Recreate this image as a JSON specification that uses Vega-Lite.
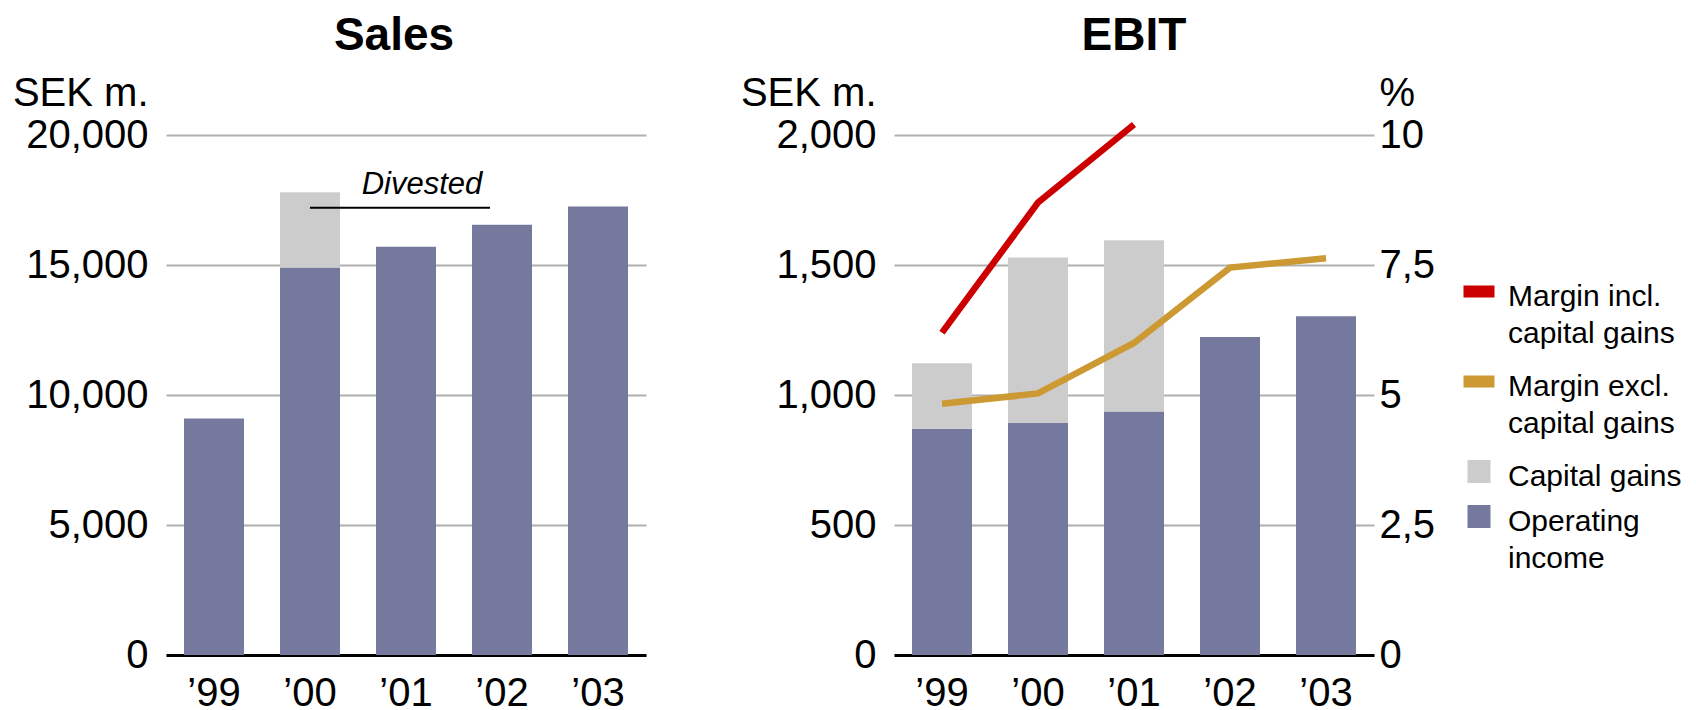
{
  "$schema": "https://vega.github.io/schema/vega-lite/v6.json",
  "padding": {"left": 12, "top": 13, "right": 5, "bottom": 0},
  "background": "white",
  "config": {
    "font": "Liberation Sans",
    "view": {"stroke": null},
    "axis": {"labelFont": "Liberation Sans", "titleFont": "Liberation Sans", "labelColor": "#000", "titleColor": "#000"}
  },
  "datasets": {
    "sales": [
      {"year": "’99", "type": "Ongoing", "value": 9100},
      {"year": "’00", "type": "Ongoing", "value": 14900},
      {"year": "’00", "type": "Divested", "value": 2900},
      {"year": "’01", "type": "Ongoing", "value": 15700},
      {"year": "’02", "type": "Ongoing", "value": 16550},
      {"year": "’03", "type": "Ongoing", "value": 17250}
    ],
    "annot": [
      {"label": "Divested", "start": "’00", "end": "’02", "level": 17200}
    ],
    "ebit": [
      {"year": "’99", "type": "Operating income", "value": 870},
      {"year": "’99", "type": "Capital gains", "value": 252},
      {"year": "’00", "type": "Operating income", "value": 892},
      {"year": "’00", "type": "Capital gains", "value": 637},
      {"year": "’01", "type": "Operating income", "value": 937},
      {"year": "’01", "type": "Capital gains", "value": 658},
      {"year": "’02", "type": "Operating income", "value": 1223},
      {"year": "’03", "type": "Operating income", "value": 1303}
    ],
    "margin": [
      {"year": "’99", "series": "Margin incl. capital gains", "pct": 6.2},
      {"year": "’00", "series": "Margin incl. capital gains", "pct": 8.7},
      {"year": "’01", "series": "Margin incl. capital gains", "pct": 10.2},
      {"year": "’99", "series": "Margin excl. capital gains", "pct": 4.83},
      {"year": "’00", "series": "Margin excl. capital gains", "pct": 5.03},
      {"year": "’01", "series": "Margin excl. capital gains", "pct": 6.0},
      {"year": "’02", "series": "Margin excl. capital gains", "pct": 7.45},
      {"year": "’03", "series": "Margin excl. capital gains", "pct": 7.63}
    ],
    "legend": [
      {"series": "Margin incl. capital gains", "label": "Margin incl.\ncapital gains"},
      {"series": "Margin excl. capital gains", "label": "Margin excl.\ncapital gains"},
      {"series": "Capital gains", "label": "Capital gains"},
      {"series": "Operating income", "label": "Operating\nincome"}
    ]
  },
  "spacing": 94,
  "hconcat": [
    {
      "width": 480,
      "height": 520,
      "title": {"text": "Sales", "fontSize": 46, "fontWeight": "bold", "anchor": "middle", "frame": "group", "dx": -12, "offset": 13, "color": "#000", "font": "Liberation Sans"},
      "layer": [
        {
          "data": {"name": "sales"},
          "mark": {"type": "bar"},
          "encoding": {
            "x": {"field": "year", "type": "ordinal", "scale": {"domain": ["’99", "’00", "’01", "’02", "’03"], "paddingInner": 0.375, "paddingOuter": 0.1875},
              "axis": {"title": null, "domainColor": "#000", "domainWidth": 3, "ticks": false, "tickSize": 0, "labelFontSize": 40, "labelPadding": 18, "labelAngle": 0, "grid": false}},
            "y": {"field": "value", "type": "quantitative", "stack": "zero", "scale": {"domain": [0, 20000], "nice": false},
              "axis": {"values": [0, 5000, 10000, 15000, 20000], "format": ",d", "grid": true, "gridColor": "#b0b0b0", "gridWidth": 2, "domain": false, "ticks": false, "tickSize": 0, "labelFontSize": 40, "labelPadding": 18, "title": "SEK m.", "titleAngle": 0, "titleFontSize": 40, "titleFontWeight": "normal", "titleAlign": "right", "titleBaseline": "alphabetic", "titleX": -18, "titleY": -30}},
            "color": {"field": "type", "type": "nominal", "legend": null,
              "scale": {"domain": ["Ongoing", "Divested", "Operating income", "Capital gains", "Margin incl. capital gains", "Margin excl. capital gains"], "range": ["#75799d", "#cccccc", "#75799d", "#cccccc", "#cc0000", "#cc9933"]}},
            "order": {"field": "type", "sort": "descending"}
          }
        },
        {
          "data": {"name": "annot"},
          "mark": {"type": "rule", "color": "#000", "strokeWidth": 2, "x2Offset": -12},
          "encoding": {
            "x": {"field": "start", "type": "ordinal"},
            "x2": {"field": "end"},
            "y": {"field": "level", "type": "quantitative"}
          }
        },
        {
          "data": {"name": "annot"},
          "mark": {"type": "text", "font": "Liberation Sans", "fontStyle": "italic", "fontSize": 31, "dy": -14, "dx": 16, "baseline": "alphabetic", "align": "center", "color": "#000"},
          "encoding": {
            "x": {"datum": "’01", "type": "ordinal"},
            "y": {"field": "level", "type": "quantitative"},
            "text": {"field": "label"}
          }
        }
      ]
    },
    {
      "spacing": 28,
      "hconcat": [
        {
          "width": 480,
          "height": 520,
          "title": {"text": "EBIT", "fontSize": 46, "fontWeight": "bold", "anchor": "middle", "frame": "group", "offset": 13, "color": "#000", "font": "Liberation Sans"},
          "layer": [
            {
              "data": {"name": "ebit"},
              "mark": {"type": "bar"},
              "encoding": {
                "x": {"field": "year", "type": "ordinal", "scale": {"domain": ["’99", "’00", "’01", "’02", "’03"], "paddingInner": 0.375, "paddingOuter": 0.1875},
                  "axis": {"title": null, "domainColor": "#000", "domainWidth": 3, "ticks": false, "tickSize": 0, "labelFontSize": 40, "labelPadding": 18, "labelAngle": 0, "grid": false}},
                "y": {"field": "value", "type": "quantitative", "stack": "zero", "scale": {"domain": [0, 2000], "nice": false},
                  "axis": {"values": [0, 500, 1000, 1500, 2000], "format": ",d", "grid": true, "gridColor": "#b0b0b0", "gridWidth": 2, "domain": false, "ticks": false, "tickSize": 0, "labelFontSize": 40, "labelPadding": 18, "title": "SEK m.", "titleAngle": 0, "titleFontSize": 40, "titleFontWeight": "normal", "titleAlign": "right", "titleBaseline": "alphabetic", "titleX": -18, "titleY": -30}},
                "color": {"field": "type", "type": "nominal", "legend": null,
                  "scale": {"domain": ["Ongoing", "Divested", "Operating income", "Capital gains", "Margin incl. capital gains", "Margin excl. capital gains"], "range": ["#75799d", "#cccccc", "#75799d", "#cccccc", "#cc0000", "#cc9933"]}},
                "order": {"field": "type", "sort": "descending"}
              }
            },
            {
              "data": {"name": "margin"},
              "mark": {"type": "line", "strokeWidth": 6.5},
              "encoding": {
                "x": {"field": "year", "type": "ordinal"},
                "y": {"field": "pct", "type": "quantitative", "scale": {"domain": [0, 10], "nice": false},
                  "axis": {"orient": "right", "values": [0, 2.5, 5, 7.5, 10], "labelExpr": "replace(format(datum.value, '~g'), '.', ',')", "grid": false, "domain": false, "ticks": false, "tickSize": 0, "labelFontSize": 40, "labelPadding": 5, "title": "%", "titleAngle": 0, "titleFontSize": 40, "titleFontWeight": "normal", "titleAlign": "left", "titleBaseline": "alphabetic", "titleX": 5, "titleY": -30}},
                "color": {"field": "series", "type": "nominal", "legend": null,
                  "scale": {"domain": ["Ongoing", "Divested", "Operating income", "Capital gains", "Margin incl. capital gains", "Margin excl. capital gains"], "range": ["#75799d", "#cccccc", "#75799d", "#cccccc", "#cc0000", "#cc9933"]}}
              }
            }
          ],
          "resolve": {"scale": {"y": "independent"}}
        },
        {
          "width": 30,
          "height": 520,
          "data": {"name": "legend"},
          "layer": [
            {
              "mark": {"type": "point", "filled": true, "opacity": 1, "size": 529, "strokeWidth": 0},
              "encoding": {
                "y": {"field": "series", "type": "nominal", "axis": null,
                  "scale": {"type": "point", "domain": ["Margin incl. capital gains", " ", "Margin excl. capital gains", "  ", "Capital gains", "Operating income"], "range": [156.5, 381.5], "padding": 0}},
                "shape": {"field": "series", "type": "nominal", "legend": null,
                  "scale": {"domain": ["Margin incl. capital gains", "Margin excl. capital gains", "Capital gains", "Operating income"], "range": ["M-1.348,-0.522H1.348V0.522H-1.348Z", "M-1.348,-0.522H1.348V0.522H-1.348Z", "square", "square"]}},
                "color": {"field": "series", "type": "nominal", "legend": null,
                  "scale": {"domain": ["Ongoing", "Divested", "Operating income", "Capital gains", "Margin incl. capital gains", "Margin excl. capital gains"], "range": ["#75799d", "#cccccc", "#75799d", "#cccccc", "#cc0000", "#cc9933"]}}
              }
            },
            {
              "mark": {"type": "text", "align": "left", "baseline": "alphabetic", "dx": 29, "dy": 14, "fontSize": 30, "lineBreak": "\n", "lineHeight": 37, "color": "#000", "font": "Liberation Sans"},
              "encoding": {
                "y": {"field": "series", "type": "nominal", "axis": null},
                "text": {"field": "label"}
              }
            }
          ]
        }
      ]
    }
  ]
}
